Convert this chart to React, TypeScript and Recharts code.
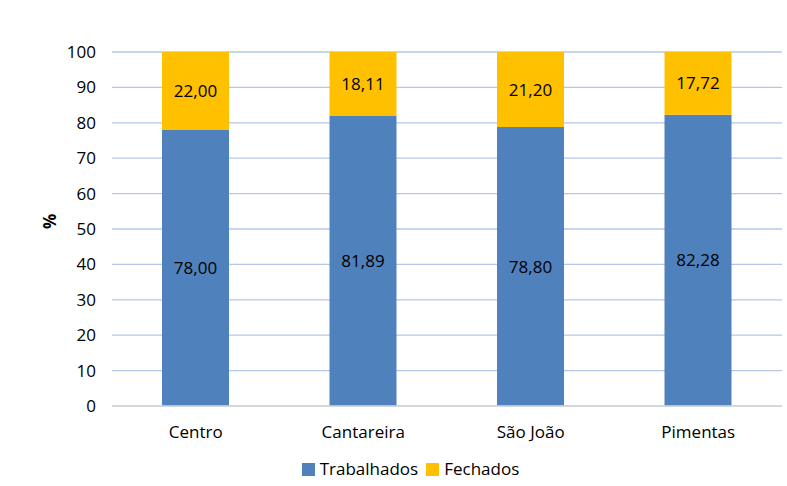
import React from "react";
import { BarChart, Bar, XAxis, YAxis, CartesianGrid, Legend, LabelList } from "recharts";

const categories = ["Centro", "Cantareira", "São João", "Pimentas"];
const trabalhados = [78.0, 81.89, 78.8, 82.28];
const fechados = [22.0, 18.11, 21.2, 17.72];
const yTicks = [0, 10, 20, 30, 40, 50, 60, 70, 80, 90, 100];
const seriesNames = ["Trabalhados", "Fechados"];
const seriesColors = ["#4f81bd", "#ffc000"];

const data = categories.map((c, i) => ({ name: c, Trabalhados: trabalhados[i], Fechados: fechados[i] }));

const fmt = (v: any) => Number(v).toFixed(2).replace(".", ",");
const FONT = "'Open Sans', sans-serif";

const LegendContent = () => (
  <div style={{ display: "flex", justifyContent: "center", alignItems: "center", fontFamily: FONT, fontSize: 17, color: "#000", paddingLeft: 34, lineHeight: "22px" }}>
    {seriesNames.map((n, i) => (
      <span key={n} style={{ display: "inline-flex", alignItems: "center", marginRight: i === 0 ? 8 : 0 }}>
        <span style={{ display: "inline-block", width: 13, height: 13, background: seriesColors[i], marginRight: 5 }} />
        <span>{n}</span>
      </span>
    ))}
  </div>
);

export default function App() {
  return (
    <div style={{ position: "absolute", left: 0, top: 0, width: 787, height: 486, background: "#fff" }}>
      <BarChart
        width={787}
        height={486}
        data={data}
        margin={{ top: 52, right: 5, bottom: 0, left: 0 }}
        barSize={67}
        style={{ fontFamily: FONT }}
      >
        <CartesianGrid vertical={false} stroke="#b4c7e7" strokeWidth={1.3} />
        <XAxis
          dataKey="name"
          axisLine={{ stroke: "#d9d9d9", strokeWidth: 1.3 }}
          tickLine={false}
          tick={{ fill: "#000", fontSize: 17 }}
          tickMargin={14}
          height={46}
        />
        <YAxis
          domain={[0, 100]}
          ticks={yTicks}
          width={112}
          axisLine={false}
          tickLine={false}
          tick={{ fill: "#000", fontSize: 17 }}
          tickMargin={10}
          label={{ value: "%", angle: -90, position: "insideLeft", offset: 50, style: { fill: "#000", fontSize: 17, fontWeight: 700 } }}
        />
        <Legend
          verticalAlign="bottom"
          height={34}
          content={<LegendContent />}
          wrapperStyle={{ position: "absolute", top: 458, left: 0, width: 787, bottom: "auto" }}
        />
        <Bar dataKey="Trabalhados" stackId="a" fill={seriesColors[0]} isAnimationActive={false}>
          <LabelList dataKey="Trabalhados" position="center" formatter={fmt} style={{ fill: "#000", fontSize: 17 }} />
        </Bar>
        <Bar dataKey="Fechados" stackId="a" fill={seriesColors[1]} isAnimationActive={false}>
          <LabelList dataKey="Fechados" position="center" formatter={fmt} style={{ fill: "#000", fontSize: 17 }} />
        </Bar>
      </BarChart>
    </div>
  );
}
